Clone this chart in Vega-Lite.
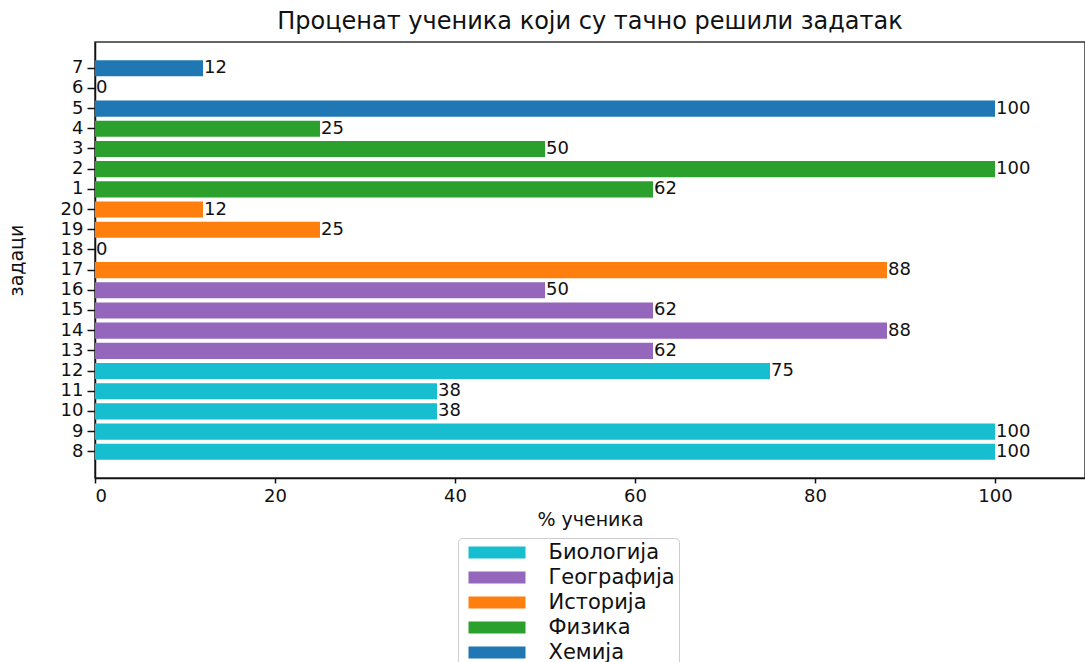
{
  "$schema": "https://vega.github.io/schema/vega-lite/v6.json",
  "autosize": {"type": "none"},
  "padding": {"left": 95, "top": 42, "right": 0, "bottom": 184},
  "width": 990,
  "height": 436,
  "background": "white",
  "config": {
    "font": "DejaVu Sans",
    "view": {"stroke": "#333", "strokeWidth": 1.5},
    "axis": {"labelColor": "#111", "titleColor": "#111", "domainColor": "#111", "domainWidth": 1.5, "tickColor": "#111", "tickWidth": 1.5, "labelFont": "DejaVu Sans", "titleFont": "DejaVu Sans", "titleFontWeight": "normal"}
  },
  "title": {"text": "Проценат ученика који су тачно решили задатак", "fontSize": 24, "fontWeight": "normal", "color": "#111", "offset": 8, "anchor": "middle"},
  "data": {"values": [
    {"zadatak": "7", "procenat": 12, "predmet": "Хемија"},
    {"zadatak": "6", "procenat": 0, "predmet": "Хемија"},
    {"zadatak": "5", "procenat": 100, "predmet": "Хемија"},
    {"zadatak": "4", "procenat": 25, "predmet": "Физика"},
    {"zadatak": "3", "procenat": 50, "predmet": "Физика"},
    {"zadatak": "2", "procenat": 100, "predmet": "Физика"},
    {"zadatak": "1", "procenat": 62, "predmet": "Физика"},
    {"zadatak": "20", "procenat": 12, "predmet": "Историја"},
    {"zadatak": "19", "procenat": 25, "predmet": "Историја"},
    {"zadatak": "18", "procenat": 0, "predmet": "Историја"},
    {"zadatak": "17", "procenat": 88, "predmet": "Историја"},
    {"zadatak": "16", "procenat": 50, "predmet": "Географија"},
    {"zadatak": "15", "procenat": 62, "predmet": "Географија"},
    {"zadatak": "14", "procenat": 88, "predmet": "Географија"},
    {"zadatak": "13", "procenat": 62, "predmet": "Географија"},
    {"zadatak": "12", "procenat": 75, "predmet": "Биологија"},
    {"zadatak": "11", "procenat": 38, "predmet": "Биологија"},
    {"zadatak": "10", "procenat": 38, "predmet": "Биологија"},
    {"zadatak": "9", "procenat": 100, "predmet": "Биологија"},
    {"zadatak": "8", "procenat": 100, "predmet": "Биологија"}
  ]},
  "encoding": {
    "y": {
      "field": "zadatak", "type": "nominal",
      "sort": ["7","6","5","4","3","2","1","20","19","18","17","16","15","14","13","12","11","10","9","8"],
      "scale": {"paddingInner": 0.2, "paddingOuter": 0.9},
      "axis": {"title": "задаци", "titleFontSize": 19, "labelFontSize": 18, "tickSize": 8, "labelPadding": 4, "titlePadding": 34, "domain": true}
    },
    "x": {
      "field": "procenat", "type": "quantitative",
      "scale": {"domain": [0, 110], "nice": false},
      "axis": {"title": "% ученика", "values": [0, 20, 40, 60, 80, 100], "grid": false, "labelFontSize": 18, "titleFontSize": 19, "tickSize": 5, "labelPadding": 4, "titlePadding": 5}
    }
  },
  "layer": [
    {
      "mark": {"type": "bar"},
      "encoding": {
        "color": {
          "field": "predmet", "type": "nominal",
          "scale": {"domain": ["Биологија", "Географија", "Историја", "Физика", "Хемија"], "range": ["#17becf", "#9467bd", "#ff7f0e", "#2ca02c", "#1f77b4"]},
          "legend": {
            "title": null, "orient": "none", "legendX": 363, "legendY": 496,
            "symbolType": "M-2.85,-0.6H2.85V0.6H-2.85Z", "symbolSize": 400, "symbolStrokeWidth": 0, "symbolOpacity": 1, "symbolOffset": 24.5,
            "labelFontSize": 21, "labelColor": "#111", "labelOffset": 41, "rowPadding": 3,
            "padding": 4, "strokeColor": "#ccc", "fillColor": "white", "cornerRadius": 4
          }
        }
      }
    },
    {
      "mark": {"type": "text", "align": "left", "baseline": "middle", "dx": 1, "fontSize": 18, "color": "#111"},
      "encoding": {"text": {"field": "procenat", "type": "quantitative"}}
    }
  ]
}
